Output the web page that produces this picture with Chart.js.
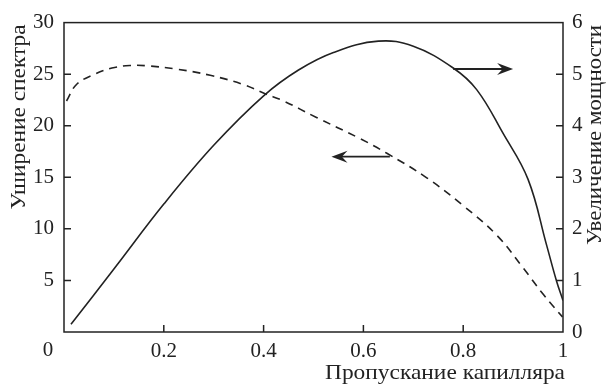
<!DOCTYPE html>
<html><head><meta charset="utf-8">
<script src="https://cdn.jsdelivr.net/npm/chart.js@4/dist/chart.umd.min.js"></script>
<style>html,body{margin:0;padding:0;background:#fff}</style>
</head><body>
<canvas id="c" width="608" height="392"></canvas>
<script>
// Solid curve: power increase (right axis)
const powerX = [0.014,0.10,0.20,0.30,0.40,0.47,0.54,0.63,0.70,0.78,0.827,0.88,0.93,0.967,0.987,1.0];
const powerY = [0.15,1.22,2.48,3.62,4.58,5.08,5.42,5.64,5.54,5.12,4.70,3.85,2.96,1.69,0.99,0.61];
// Dashed curve: spectrum broadening (left axis)
const broadX = [0.005,0.025,0.059,0.096,0.132,0.166,0.226,0.293,0.359,0.403,0.44,0.506,0.593,0.647,0.727,0.80,0.867,0.92,0.96,0.999];
const broadY = [22.4,24.0,24.95,25.59,25.84,25.81,25.49,24.89,24.0,23.1,22.4,20.8,18.76,17.33,14.95,12.25,9.40,6.22,3.68,1.46];
// Tick values
const xTicks = [0,0.2,0.4,0.6,0.8,1];
const leftTicks = [0,5,10,15,20,25,30];
const rightTicks = [0,1,2,3,4,5,6];
// Texts
const xTitle = 'Пропускание капилляра';
const leftTitle = 'Уширение спектра';
const rightTitle = 'Увеличение мощности';
// Arrows (data coordinates)
const arrows = [
  {x0:0.78, x1:0.90, y:5.10, axis:'y2'},
  {x0:0.653, x1:0.536, y:17.0, axis:'y'}
];

const INK = '#222';
const FONT = '"Liberation Serif", "Times New Roman", serif';
const FS = 21;

function fmtX(v){ return v===0 ? '' : String(+v.toFixed(1)); }

function stretchedText(ctx, text, x, y, rot, width){
  ctx.save();
  ctx.translate(x, y);
  if (rot) ctx.rotate(rot);
  const w = ctx.measureText(text).width;
  ctx.scale(width / w, 1);
  ctx.fillText(text, 0, 0);
  ctx.restore();
}

const decor = {
  id:'decor',
  afterDraw(chart){
    const ctx = chart.ctx, a = chart.chartArea;
    const sx = chart.scales.x, sy = chart.scales.y, sy2 = chart.scales.y2;
    ctx.save();
    ctx.strokeStyle = INK; ctx.lineWidth = 1.5;
    ctx.strokeRect(a.left, a.top, a.right-a.left, a.bottom-a.top);
    const TL = 7;
    ctx.beginPath();
    xTicks.slice(1,-1).forEach(v=>{ const p=sx.getPixelForValue(v); ctx.moveTo(p,a.bottom); ctx.lineTo(p,a.bottom-TL); });
    leftTicks.slice(1,-1).forEach(v=>{ const p=sy.getPixelForValue(v); ctx.moveTo(a.left,p); ctx.lineTo(a.left+TL,p); });
    rightTicks.slice(1,-1).forEach(v=>{ const p=sy2.getPixelForValue(v); ctx.moveTo(a.right,p); ctx.lineTo(a.right-TL,p); });
    ctx.stroke();
    ctx.fillStyle = INK;
    ctx.font = FS+'px '+FONT;
    ctx.textAlign='center'; ctx.textBaseline='middle';
    ctx.fillText('0', a.left-16, a.bottom+18);
    ctx.textAlign='center'; ctx.textBaseline='alphabetic';
    stretchedText(ctx, xTitle, 445, 379, 0, 240);
    stretchedText(ctx, leftTitle, 25, 117, -Math.PI/2, 185);
    stretchedText(ctx, rightTitle, 601, 135, -Math.PI/2, 220);
    arrows.forEach(ar=>{
      const s = chart.scales[ar.axis];
      const x0 = sx.getPixelForValue(ar.x0), x1 = sx.getPixelForValue(ar.x1), y = s.getPixelForValue(ar.y);
      const dir = Math.sign(x1-x0), L = 16, H = 6;
      ctx.beginPath(); ctx.lineWidth=1.8;
      ctx.moveTo(x0,y); ctx.lineTo(x1-dir*L*0.6,y); ctx.stroke();
      ctx.beginPath();
      ctx.moveTo(x1,y);
      ctx.lineTo(x1-dir*L,y-H);
      ctx.lineTo(x1-dir*L*0.65,y);
      ctx.lineTo(x1-dir*L,y+H);
      ctx.closePath(); ctx.fill();
    });
    ctx.restore();
  }
};

new Chart(document.getElementById('c'), {
  type:'line',
  data:{
    datasets:[
      { label:rightTitle, data: powerX.map((x,i)=>({x, y:powerY[i]})), yAxisID:'y2',
        borderColor:INK, borderWidth:1.6, pointRadius:0, tension:0.4, fill:false },
      { label:leftTitle, data: broadX.map((x,i)=>({x, y:broadY[i]})), yAxisID:'y',
        borderColor:INK, borderWidth:1.6, borderDash:[8,6], pointRadius:0, tension:0.4, fill:false }
    ]
  },
  options:{
    responsive:false, animation:false,
    layout:{padding:{top:17,left:0,right:0,bottom:0}},
    plugins:{legend:{display:false}, tooltip:{enabled:false}},
    scales:{
      x:{ type:'linear', min:0, max:1,
        afterBuildTicks(s){ s.ticks = xTicks.map(v=>({value:v})); },
        afterFit(s){ s.height = 60; },
        grid:{display:false, drawTicks:false}, border:{display:false},
        ticks:{ padding:7, color:INK, font:{family:FONT, size:FS}, callback:fmtX, maxRotation:0, autoSkip:false } },
      y:{ position:'left', min:0, max:30,
        afterBuildTicks(s){ s.ticks = leftTicks.map(v=>({value:v})); },
        afterFit(s){ s.width = 64; },
        grid:{display:false, drawTicks:false}, border:{display:false},
        ticks:{ padding:10, color:INK, font:{family:FONT, size:FS}, callback:v=> v===0?'':String(v) } },
      y2:{ position:'right', min:0, max:6,
        afterBuildTicks(s){ s.ticks = rightTicks.map(v=>({value:v})); },
        afterFit(s){ s.width = 45; },
        grid:{display:false, drawTicks:false}, border:{display:false},
        ticks:{ padding:9, color:INK, font:{family:FONT, size:FS}, callback:v=>String(v) } }
    }
  },
  plugins:[decor]
});
</script>
</body></html>
